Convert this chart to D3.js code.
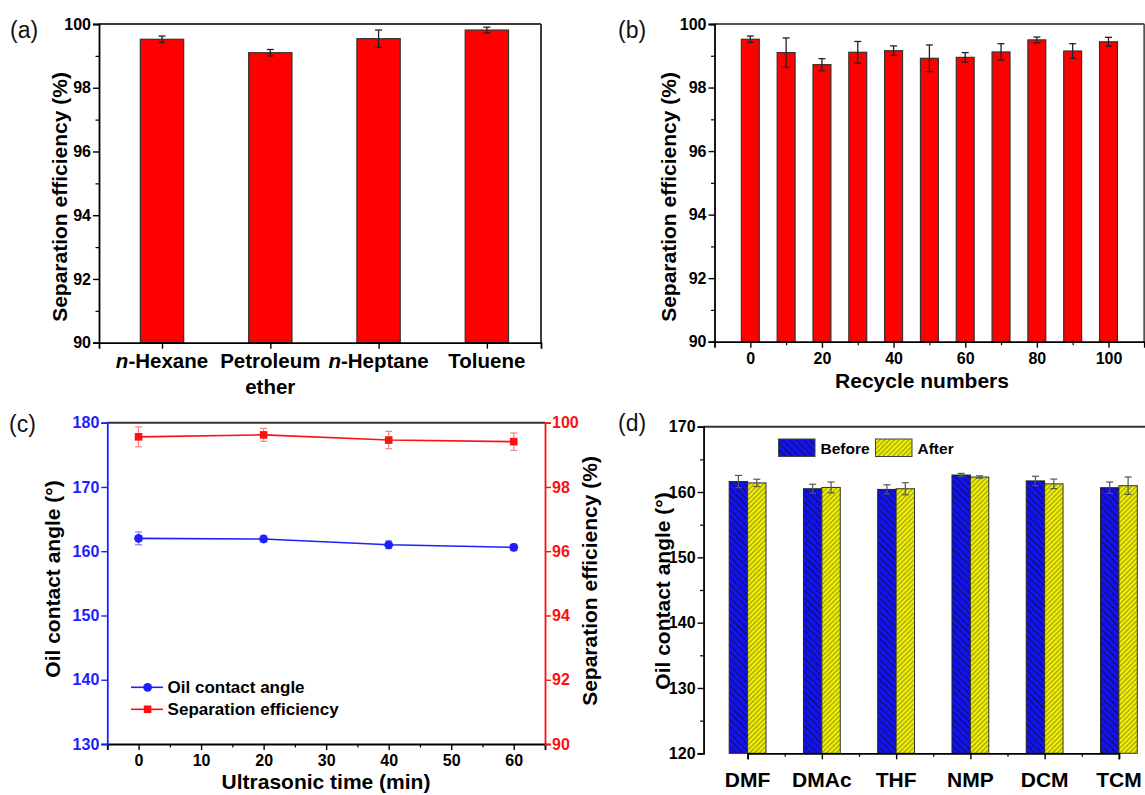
<!DOCTYPE html>
<html><head><meta charset="utf-8">
<script src="https://cdn.jsdelivr.net/npm/d3@7"></script>
<style>
body{margin:0;background:#fff;}
svg{display:block;font-family:"Liberation Sans",Arial,sans-serif;}
</style></head><body>
<svg id="chart" width="1145" height="795"></svg>
<script>
// ---------- DATA ----------
// (a) separation efficiency per oil
const solventsA = ["n-Hexane", "Petroleum ether", "n-Heptane", "Toluene"];
const effA = [99.52, 99.10, 99.54, 99.81];
const errA = [0.10, 0.10, 0.27, 0.09];
const yTicksA = [90, 92, 94, 96, 98, 100];

// (b) recycle
const recycleB = [0, 10, 20, 30, 40, 50, 60, 70, 80, 90, 100];
const effB = [99.52, 99.10, 98.72, 99.11, 99.16, 98.92, 98.95, 99.12, 99.50, 99.15, 99.44];
const errB = [0.10, 0.46, 0.19, 0.34, 0.15, 0.42, 0.15, 0.26, 0.09, 0.23, 0.14];
const xTicksB = [0, 20, 40, 60, 80, 100];
const yTicksB = [90, 92, 94, 96, 98, 100];

// (c) ultrasonic time
const timeC = [0, 20, 40, 60];
const angleC = [162.0, 161.9, 161.0, 160.6];
const angleErrC = [1.0, 0.5, 0.6, 0.5];
const effC = [99.56, 99.62, 99.46, 99.41];
const effErrC = [0.31, 0.20, 0.27, 0.27];
const xTicksC = [0, 10, 20, 30, 40, 50, 60];
const yTicksCL = [130, 140, 150, 160, 170, 180];
const yTicksCR = [90, 92, 94, 96, 98, 100];
const legendC = ["Oil contact angle", "Separation efficiency"];

// (d) solvents before/after
const solventsD = ["DMF", "DMAc", "THF", "NMP", "DCM", "TCM"];
const beforeD = [161.6, 160.5, 160.4, 162.6, 161.7, 160.66];
const beforeErrD = [0.94, 0.69, 0.71, 0.25, 0.71, 0.87];
const afterD = [161.4, 160.7, 160.5, 162.3, 161.25, 160.97];
const afterErrD = [0.56, 0.84, 0.92, 0.18, 0.73, 1.33];
const yTicksD = [120, 130, 140, 150, 160, 170];
const legendD = ["Before", "After"];

// ---------- SETUP ----------
const svg = d3.select("#chart");
const FONT = '"Liberation Sans", Arial, sans-serif';
const frameColor = "#3a3a3a";
const TICK_FS = 16;

const defs = svg.append("defs");
function hatch(id, bg, lineColor, size, lw, angle) {
  const p = defs.append("pattern").attr("id", id)
    .attr("patternUnits", "userSpaceOnUse")
    .attr("width", size).attr("height", size)
    .attr("patternTransform", `rotate(${angle})`);
  p.append("rect").attr("width", size).attr("height", size).attr("fill", bg);
  p.append("line").attr("x1", size / 2).attr("x2", size / 2).attr("y1", 0).attr("y2", size)
    .attr("stroke", lineColor).attr("stroke-width", lw);
}
hatch("hBefore", "#1212f2", "#10105a", 4.8, 1.1, -45);
hatch("hAfter", "#f4f400", "#6b6b22", 3.4, 0.8, 45);

function styleAxis(g, color, size) {
  g.attr("font-family", FONT).attr("font-size", size).attr("font-weight", "bold");
  g.select(".domain").attr("stroke", color).attr("stroke-width", 1.8);
  g.selectAll(".tick line").attr("stroke", color).attr("stroke-width", 1.4);
  g.selectAll(".tick text").attr("fill", color);
}
function minor(g, axisFn, scale, vals, size, color) {
  const a = g.append("g").call(axisFn(scale).tickValues(vals).tickSize(size).tickFormat(""));
  a.select(".domain").remove();
  a.selectAll(".tick line").attr("stroke", color).attr("stroke-width", 1.2);
  return a;
}
function frame(x0, x1, y0, y1, color, noRight) {
  svg.append("line").attr("x1", x0).attr("x2", x1).attr("y1", y0).attr("y2", y0)
    .attr("stroke", color).attr("stroke-width", 2);
  if (!noRight) svg.append("line").attr("x1", x1).attr("x2", x1).attr("y1", y0).attr("y2", y1)
    .attr("stroke", color).attr("stroke-width", 2);
}
function errBar(g, x, yTop, yBot, cap, color, w) {
  g.append("line").attr("x1", x).attr("x2", x).attr("y1", yTop).attr("y2", yBot)
    .attr("stroke", color).attr("stroke-width", w);
  [yTop, yBot].forEach(yy => g.append("line").attr("x1", x - cap / 2).attr("x2", x + cap / 2)
    .attr("y1", yy).attr("y2", yy).attr("stroke", color).attr("stroke-width", w));
}
function vTitle(x, y, txt, size) {
  svg.append("text").attr("transform", `translate(${x},${y}) rotate(-90)`)
    .attr("text-anchor", "middle").attr("font-size", size).attr("font-weight", "bold")
    .attr("fill", "#000").text(txt);
}
function panelLabel(x, y, t) {
  svg.append("text").attr("x", x).attr("y", y).attr("font-size", 23).attr("fill", "#111").text(t);
}

// ---------- PANEL A ----------
{
  const L = 99, R = 541, T = 24, B = 342.7;
  const x = d3.scaleLinear().domain([0.418, 4.5]).range([L, R]);
  const y = d3.scaleLinear().domain([90, 100]).range([B, T]);
  const g = svg.append("g");
  effA.forEach((v, i) => {
    const c = i + 1;
    g.append("rect").attr("x", x(c - 0.2)).attr("width", x(c + 0.2) - x(c - 0.2))
      .attr("y", y(v)).attr("height", y(90) - y(v))
      .attr("fill", "#ff0000").attr("stroke", "#333").attr("stroke-width", 1.2);
    errBar(g, x(c), y(v + errA[i]), y(v - errA[i]), 7, "#222", 1.3);
  });
  frame(L, R, T, B, frameColor);
  const ay = svg.append("g").attr("transform", `translate(${L},0)`)
    .call(d3.axisLeft(y).tickValues(yTicksA).tickSize(6).tickPadding(2));
  styleAxis(ay, "#000", TICK_FS);
  minor(ay, d3.axisLeft, y, [91, 93, 95, 97, 99], 3.5, "#000");
  const ax = svg.append("g").attr("transform", `translate(0,${B})`)
    .call(d3.axisBottom(x).tickValues([1, 2, 3, 4]).tickSize(6).tickFormat(""));
  styleAxis(ax, "#000", TICK_FS);
  solventsA.forEach((s, i) => {
    const t = svg.append("text").attr("x", x(i + 1)).attr("y", 368)
      .attr("text-anchor", "middle").attr("font-size", 20.5).attr("font-weight", "bold");
    if (s.startsWith("n-")) {
      t.append("tspan").attr("font-style", "italic").text("n");
      t.append("tspan").text(s.slice(1));
    } else if (s.includes(" ")) {
      const parts = s.split(" ");
      t.append("tspan").attr("x", x(i + 1)).text(parts[0]);
      t.append("tspan").attr("x", x(i + 1)).attr("dy", 26).text(parts[1]);
    } else t.text(s);
  });
  vTitle(67, 197, "Separation efficiency (%)", 21);
  panelLabel(10, 38, "(a)");
}

// ---------- PANEL B ----------
{
  const L = 714.5, R = 1144.3, T = 24, B = 341.7;
  const x = d3.scaleLinear().domain([-10, 110]).range([L, R]);
  const y = d3.scaleLinear().domain([90, 100]).range([B, T]);
  const g = svg.append("g");
  effB.forEach((v, i) => {
    const c = recycleB[i];
    g.append("rect").attr("x", x(c - 2.5)).attr("width", x(c + 2.5) - x(c - 2.5))
      .attr("y", y(v)).attr("height", y(90) - y(v))
      .attr("fill", "#ff0000").attr("stroke", "#333").attr("stroke-width", 1.2);
    errBar(g, x(c), y(v + errB[i]), y(v - errB[i]), 7, "#222", 1.3);
  });
  frame(L, R, T, B, "#555");
  const ay = svg.append("g").attr("transform", `translate(${L},0)`)
    .call(d3.axisLeft(y).tickValues(yTicksB).tickSize(6).tickPadding(2));
  styleAxis(ay, "#000", TICK_FS);
  minor(ay, d3.axisLeft, y, [91, 93, 95, 97, 99], 3.5, "#000");
  const ax = svg.append("g").attr("transform", `translate(0,${B})`)
    .call(d3.axisBottom(x).tickValues(xTicksB).tickSize(6).tickPadding(5));
  styleAxis(ax, "#000", TICK_FS);
  minor(ax, d3.axisBottom, x, [10, 30, 50, 70, 90], 3.5, "#000");
  svg.append("text").attr("x", 922).attr("y", 388).attr("text-anchor", "middle")
    .attr("font-size", 21).attr("font-weight", "bold").text("Recycle numbers");
  vTitle(676, 197, "Separation efficiency (%)", 21);
  panelLabel(618, 38, "(b)");
}

// ---------- PANEL C ----------
{
  const L = 107.3, R = 545, T = 422.7, B = 744;
  const blue = "#1e1eff", red = "#ff1010";
  const x = d3.scaleLinear().domain([-5, 65]).range([L, R]);
  const yl = d3.scaleLinear().domain([130, 180]).range([B, T]);
  const yr = d3.scaleLinear().domain([90, 100]).range([B, T]);
  frame(L, R, T, B, "#333", true);
  const g = svg.append("g");
  const lineL = d3.line().x((d, i) => x(timeC[i])).y(d => yl(d));
  const lineR = d3.line().x((d, i) => x(timeC[i])).y(d => yr(d));
  g.append("path").attr("d", lineR(effC)).attr("fill", "none").attr("stroke", red).attr("stroke-width", 1.6);
  g.append("path").attr("d", lineL(angleC)).attr("fill", "none").attr("stroke", blue).attr("stroke-width", 1.6);
  effC.forEach((v, i) => errBar(g, x(timeC[i]), yr(v + effErrC[i]), yr(v - effErrC[i]), 7, "#ff8080", 1.2));
  angleC.forEach((v, i) => errBar(g, x(timeC[i]), yl(v + angleErrC[i]), yl(v - angleErrC[i]), 7, "#8080ff", 1.2));
  effC.forEach((v, i) => g.append("rect").attr("x", x(timeC[i]) - 3.8).attr("y", yr(v) - 3.8)
    .attr("width", 7.6).attr("height", 7.6).attr("fill", red));
  angleC.forEach((v, i) => g.append("circle").attr("cx", x(timeC[i])).attr("cy", yl(v))
    .attr("r", 4.4).attr("fill", blue));
  const ax = svg.append("g").attr("transform", `translate(0,${B})`)
    .call(d3.axisBottom(x).tickValues(xTicksC).tickSize(6).tickPadding(5));
  styleAxis(ax, "#000", TICK_FS);
  minor(ax, d3.axisBottom, x, [-5, 5, 15, 25, 35, 45, 55, 65], 3.5, "#000");
  const al = svg.append("g").attr("transform", `translate(${L},0)`)
    .call(d3.axisLeft(yl).tickValues(yTicksCL).tickSize(6).tickPadding(2));
  styleAxis(al, blue, TICK_FS);
  const ar = svg.append("g").attr("transform", `translate(${R},0)`)
    .call(d3.axisRight(yr).tickValues(yTicksCR).tickSize(6).tickPadding(1));
  styleAxis(ar, red, TICK_FS);
  // legend
  const lg = svg.append("g");
  [[687.3, blue, "c"], [709.3, red, "s"]].forEach((r, i) => {
    lg.append("line").attr("x1", 131).attr("x2", 163).attr("y1", r[0]).attr("y2", r[0])
      .attr("stroke", r[1]).attr("stroke-width", 1.6);
    if (r[2] === "c") lg.append("circle").attr("cx", 147.6).attr("cy", r[0]).attr("r", 4.4).attr("fill", r[1]);
    else lg.append("rect").attr("x", 143.8).attr("y", r[0] - 3.8).attr("width", 7.6).attr("height", 7.6).attr("fill", r[1]);
    lg.append("text").attr("x", 167.6).attr("y", r[0] + 6).attr("font-size", 17).attr("font-weight", "bold")
      .text(legendC[i]);
  });
  svg.append("text").attr("x", 326).attr("y", 789).attr("text-anchor", "middle")
    .attr("font-size", 21).attr("font-weight", "bold").text("Ultrasonic time (min)");
  vTitle(60, 579, "Oil contact angle (\u00B0)", 21);
  vTitle(597, 581, "Separation efficiency (%)", 21);
  panelLabel(9, 432, "(c)");
}

// ---------- PANEL D ----------
{
  const T = 426.7, B = 753.3;
  const x = d3.scaleLinear().domain([1, 6]).range([747.6, 1118.9]);
  const L = x(0.407), R = x(6.6);
  const y = d3.scaleLinear().domain([120, 170]).range([B, T]);
  const g = svg.append("g");
  const bw = 18.4;
  beforeD.forEach((v, i) => {
    const c = x(i + 1);
    g.append("rect").attr("x", c - bw).attr("width", bw).attr("y", y(v)).attr("height", y(120) - y(v))
      .attr("fill", "url(#hBefore)").attr("stroke", "#222").attr("stroke-width", 1);
    g.append("rect").attr("x", c).attr("width", bw).attr("y", y(afterD[i])).attr("height", y(120) - y(afterD[i]))
      .attr("fill", "url(#hAfter)").attr("stroke", "#333").attr("stroke-width", 1);
  });
  beforeD.forEach((v, i) => {
    const c = x(i + 1);
    errBar(g, c - bw / 2, y(v + beforeErrD[i]), y(v - beforeErrD[i]), 7, "#555", 1.2);
    errBar(g, c + bw / 2, y(afterD[i] + afterErrD[i]), y(afterD[i] - afterErrD[i]), 7, "#555", 1.2);
  });
  frame(L, R, T, B, "#333", true);
  const ay = svg.append("g").attr("transform", `translate(${L},0)`)
    .call(d3.axisLeft(y).tickValues(yTicksD).tickSize(6).tickPadding(2));
  styleAxis(ay, "#000", TICK_FS);
  minor(ay, d3.axisLeft, y, [125, 135, 145, 155, 165], 3.5, "#000");
  const ax = svg.append("g").attr("transform", `translate(0,${B})`)
    .call(d3.axisBottom(x).tickValues([1, 2, 3, 4, 5, 6]).tickSize(6).tickFormat(""));
  styleAxis(ax, "#000", TICK_FS);
  minor(ax, d3.axisBottom, x, [1.5, 2.5, 3.5, 4.5, 5.5, 6.5], 3.5, "#000");
  solventsD.forEach((s, i) => svg.append("text").attr("x", x(i + 1)).attr("y", 787)
    .attr("text-anchor", "middle").attr("font-size", 21).attr("font-weight", "bold").text(s));
  // legend
  [[778.5, "url(#hBefore)"], [875.5, "url(#hAfter)"]].forEach((r, i) => {
    svg.append("rect").attr("x", r[0]).attr("y", 439).attr("width", 36.5).attr("height", 17.5)
      .attr("fill", r[1]).attr("stroke", "#444").attr("stroke-width", 1);
    svg.append("text").attr("x", r[0] + 42).attr("y", 453.5).attr("font-size", 15.5).attr("font-weight", "bold")
      .text(legendD[i]);
  });
  vTitle(670, 591, "Oil contact angle (\u00B0)", 21);
  panelLabel(618, 431, "(d)");
}
</script>
</body></html>
